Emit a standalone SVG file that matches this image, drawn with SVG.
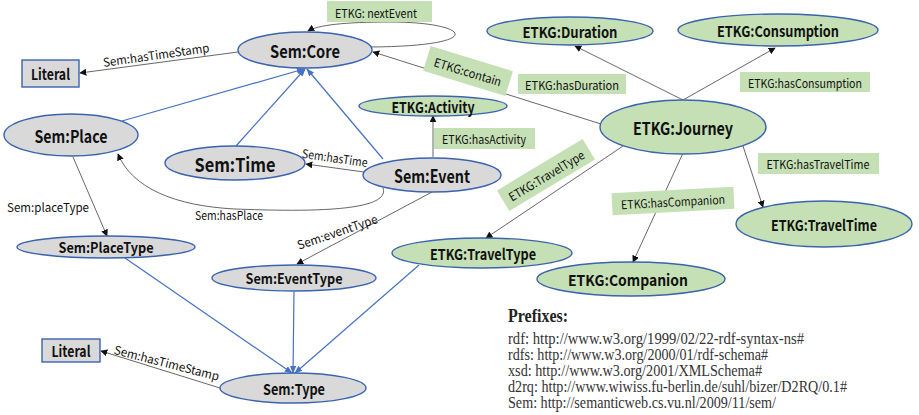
<svg xmlns="http://www.w3.org/2000/svg" width="919" height="415" viewBox="0 0 919 415">
  <style>
    .sem { fill: #d9d9d9; stroke: #3a63b0; stroke-width: 1.4; }
    .etkg { fill: #c5e0b4; stroke: #3a63b0; stroke-width: 1.4; }
    .lit { fill: #d9d9d9; stroke: #3a63b0; stroke-width: 1.4; }
    .lbl { font-family: "Noto Sans CJK SC", "Noto Sans", sans-serif; font-weight: 600; fill: #111; text-anchor: middle; dominant-baseline: central; }
    .rel { stroke: #404040; stroke-width: 0.8; fill: none; marker-end: url(#ah); }
    .sub { stroke: #4472c4; stroke-width: 1.2; fill: none; marker-end: url(#bh); }
    .tag { fill: #c5e0b4; }
    .et { font-family: "Noto Sans CJK SC", "Noto Sans", sans-serif; font-size: 12px; fill: #111; text-anchor: middle; dominant-baseline: central; }
    .pf { font-family: "Liberation Serif", "Times New Roman", serif; font-size: 16px; fill: #333; }
  </style>
  <defs>
    <marker id="ah" viewBox="0 0 10 10" refX="9" refY="5" markerWidth="7" markerHeight="7" markerUnits="userSpaceOnUse" orient="auto">
      <path d="M0,0 L10,5 L0,10 z" fill="#111"/>
    </marker>
    <marker id="bh" viewBox="0 0 10 10" refX="9" refY="5" markerWidth="8" markerHeight="8" markerUnits="userSpaceOnUse" orient="auto">
      <path d="M0,1 L10,5 L0,9 z" fill="#4472c4"/>
    </marker>
  </defs>

  <g id="connectors">
    <!-- subclass links to Sem:Core and Sem:Type -->
    <line class="sub" x1="122" y1="121" x2="304" y2="69"/>
    <line class="sub" x1="236" y1="146" x2="305" y2="69"/>
    <line class="sub" x1="383" y1="159" x2="307" y2="69"/>
    <line class="sub" x1="125" y1="258" x2="292" y2="373"/>
    <line class="sub" x1="294" y1="292" x2="293" y2="373"/>
    <line class="sub" x1="419" y1="265" x2="295" y2="373"/>

    <!-- object properties -->
    <line class="rel" x1="238" y1="52" x2="80" y2="73"/>
    <path class="rel" d="M371,47 C490,46 470,22 390,22 C345,22 318,25 308,31"/>
    <line class="rel" x1="601" y1="124" x2="373" y2="52"/>
    <line class="rel" x1="683" y1="100" x2="575" y2="46"/>
    <line class="rel" x1="683" y1="100" x2="775" y2="48"/>
    <line class="rel" x1="743" y1="146" x2="763" y2="207"/>
    <line class="rel" x1="683" y1="153" x2="633" y2="262"/>
    <line class="rel" x1="623" y1="146" x2="486" y2="238"/>
    <line class="rel" x1="433" y1="157" x2="433" y2="116"/>
    <line class="rel" x1="364" y1="172" x2="306" y2="164"/>
    <path class="rel" d="M383,188 C392,214 290,211 235,209 C175,206 132,188 118,154"/>
    <line class="rel" x1="432" y1="192" x2="297" y2="264"/>
    <line class="rel" x1="73" y1="157" x2="107" y2="236"/>
    <line class="rel" x1="220" y1="388" x2="101" y2="351"/>

    <!-- property labels -->
    <text class="et" transform="translate(156,54) rotate(-8)" textLength="107" lengthAdjust="spacingAndGlyphs">Sem:hasTimeStamp</text>
    <rect class="tag" x="327" y="1" width="105" height="21"/>
    <text class="et" x="376" y="12" textLength="82" lengthAdjust="spacingAndGlyphs">ETKG: nextEvent</text>
    <g transform="translate(468,71) rotate(17)">
      <rect class="tag" x="-43" y="-13" width="86" height="26"/>
      <text class="et" x="0" y="0" textLength="70" lengthAdjust="spacingAndGlyphs">ETKG:contain</text>
    </g>
    <rect class="tag" x="518" y="74" width="108" height="20"/>
    <text class="et" x="572" y="84" textLength="94" lengthAdjust="spacingAndGlyphs">ETKG:hasDuration</text>
    <rect class="tag" x="740" y="72" width="130" height="20"/>
    <text class="et" x="805" y="82" textLength="114" lengthAdjust="spacingAndGlyphs">ETKG:hasConsumption</text>
    <rect class="tag" x="434" y="128" width="101" height="21"/>
    <text class="et" x="484" y="138.5" textLength="84" lengthAdjust="spacingAndGlyphs">ETKG:hasActivity</text>
    <g transform="translate(546,175) rotate(-31)">
      <rect class="tag" x="-50" y="-12" width="100" height="24"/>
      <text class="et" x="0" y="0" textLength="86" lengthAdjust="spacingAndGlyphs">ETKG:TravelType</text>
    </g>
    <rect class="tag" x="758" y="153" width="121" height="21"/>
    <text class="et" x="818" y="163.5" textLength="103" lengthAdjust="spacingAndGlyphs">ETKG:hasTravelTime</text>
    <g transform="translate(673,201) rotate(-3)">
      <rect class="tag" x="-61" y="-11" width="122" height="22"/>
      <text class="et" x="0" y="0" textLength="104" lengthAdjust="spacingAndGlyphs">ETKG:hasCompanion</text>
    </g>
    <text class="et" transform="translate(335,157) rotate(8)" textLength="66" lengthAdjust="spacingAndGlyphs">Sem:hasTime</text>
    <text class="et" x="229" y="214" textLength="68" lengthAdjust="spacingAndGlyphs">Sem:hasPlace</text>
    <text class="et" transform="translate(337,231) rotate(-19)" textLength="84" lengthAdjust="spacingAndGlyphs">Sem:eventType</text>
    <text class="et" x="48" y="206" textLength="82" lengthAdjust="spacingAndGlyphs">Sem:placeType</text>
    <text class="et" transform="translate(167,362) rotate(14.5)" textLength="108" lengthAdjust="spacingAndGlyphs">Sem:hasTimeStamp</text>
  </g>

  <g id="literal-top"><rect class="lit" x="22" y="60" width="57" height="27"/><text class="lbl" x="50.5" y="73.5" font-size="15" textLength="39" lengthAdjust="spacingAndGlyphs">Literal</text></g>
  <g id="sem-core"><ellipse class="sem" cx="305" cy="50" rx="67" ry="18"/><text class="lbl" x="305" y="50" font-size="17" textLength="70" lengthAdjust="spacingAndGlyphs">Sem:Core</text></g>
  <g id="sem-place"><ellipse class="sem" cx="71" cy="135" rx="67" ry="21"/><text class="lbl" x="71" y="135" font-size="17" textLength="73" lengthAdjust="spacingAndGlyphs">Sem:Place</text></g>
  <g id="sem-time"><ellipse class="sem" cx="235" cy="163" rx="70" ry="17"/><text class="lbl" x="235" y="163" font-size="19" textLength="81" lengthAdjust="spacingAndGlyphs">Sem:Time</text></g>
  <g id="sem-event"><ellipse class="sem" cx="432" cy="175" rx="69" ry="17"/><text class="lbl" x="432" y="175" font-size="18" textLength="76" lengthAdjust="spacingAndGlyphs">Sem:Event</text></g>
  <g id="etkg-activity"><ellipse class="etkg" cx="433" cy="106" rx="74" ry="10"/><text class="lbl" x="433" y="106" font-size="15" textLength="83" lengthAdjust="spacingAndGlyphs">ETKG:Activity</text></g>
  <g id="etkg-duration"><ellipse class="etkg" cx="570" cy="31" rx="83" ry="14"/><text class="lbl" x="570" y="31" font-size="15" textLength="95" lengthAdjust="spacingAndGlyphs">ETKG:Duration</text></g>
  <g id="etkg-consumption"><ellipse class="etkg" cx="778" cy="30" rx="100" ry="16"/><text class="lbl" x="778" y="30" font-size="15" textLength="122" lengthAdjust="spacingAndGlyphs">ETKG:Consumption</text></g>
  <g id="etkg-journey"><ellipse class="etkg" cx="683" cy="127" rx="83" ry="27"/><text class="lbl" x="683" y="127" font-size="17" textLength="100" lengthAdjust="spacingAndGlyphs">ETKG:Journey</text></g>
  <g id="etkg-traveltime"><ellipse class="etkg" cx="824" cy="224" rx="88" ry="23"/><text class="lbl" x="824" y="224" font-size="15" textLength="106" lengthAdjust="spacingAndGlyphs">ETKG:TravelTime</text></g>
  <g id="etkg-companion"><ellipse class="etkg" cx="631" cy="279" rx="94" ry="17"/><text class="lbl" x="628" y="279" font-size="15" textLength="120" lengthAdjust="spacingAndGlyphs">ETKG:Companion</text></g>
  <g id="etkg-traveltype"><ellipse class="etkg" cx="482" cy="253" rx="90" ry="15"/><text class="lbl" x="483" y="253" font-size="15" textLength="106" lengthAdjust="spacingAndGlyphs">ETKG:TravelType</text></g>
  <g id="sem-eventtype"><ellipse class="sem" cx="294" cy="278" rx="82" ry="13"/><text class="lbl" x="294" y="278" font-size="14" textLength="97" lengthAdjust="spacingAndGlyphs">Sem:EventType</text></g>
  <g id="sem-placetype"><ellipse class="sem" cx="106" cy="247" rx="89" ry="11"/><text class="lbl" x="106" y="247" font-size="14" textLength="95" lengthAdjust="spacingAndGlyphs">Sem:PlaceType</text></g>
  <g id="sem-type"><ellipse class="sem" cx="293" cy="388" rx="73" ry="15"/><text class="lbl" x="294" y="388" font-size="15" textLength="62" lengthAdjust="spacingAndGlyphs">Sem:Type</text></g>
  <g id="literal-bottom"><rect class="lit" x="42" y="339" width="58" height="23"/><text class="lbl" x="71" y="350.5" font-size="15" textLength="39" lengthAdjust="spacingAndGlyphs">Literal</text></g>

  <g id="prefixes">
    <text x="508" y="322" font-family="Liberation Serif, Times New Roman, serif" font-size="19" font-weight="bold" fill="#222" textLength="60" lengthAdjust="spacingAndGlyphs">Prefixes:</text>
    <text class="pf" x="508" y="344" textLength="296" lengthAdjust="spacingAndGlyphs">rdf: http://www.w3.org/1999/02/22-rdf-syntax-ns#</text>
    <text class="pf" x="508" y="360" textLength="260" lengthAdjust="spacingAndGlyphs">rdfs: http://www.w3.org/2000/01/rdf-schema#</text>
    <text class="pf" x="508" y="376" textLength="254" lengthAdjust="spacingAndGlyphs">xsd: http://www.w3.org/2001/XMLSchema#</text>
    <text class="pf" x="508" y="392" textLength="339" lengthAdjust="spacingAndGlyphs">d2rq: http://www.wiwiss.fu-berlin.de/suhl/bizer/D2RQ/0.1#</text>
    <text class="pf" x="508" y="408" textLength="268" lengthAdjust="spacingAndGlyphs">Sem: http://semanticweb.cs.vu.nl/2009/11/sem/</text>
  </g>
</svg>
